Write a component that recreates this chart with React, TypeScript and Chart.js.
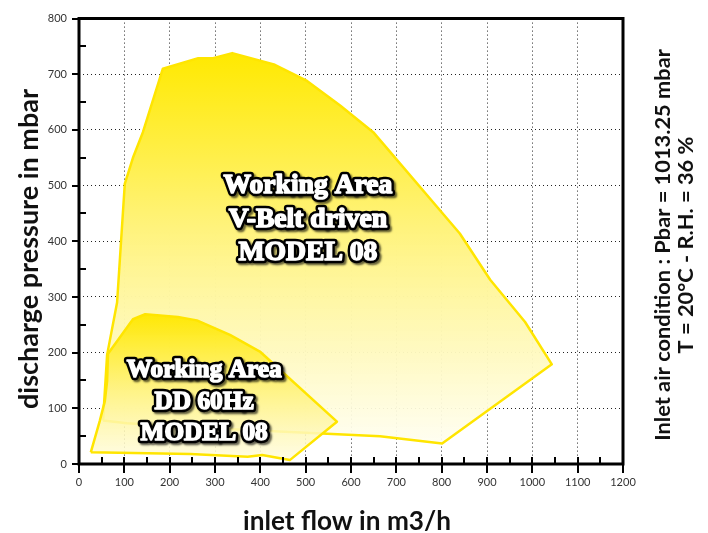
import React, { useEffect, useRef } from "react";
import { Chart, registerables } from "chart.js";

Chart.register(...registerables);

// ---- data ----
const xTickValues = [0, 100, 200, 300, 400, 500, 600, 700, 800, 900, 1000, 1100, 1200];
const yTickValues = [0, 100, 200, 300, 400, 500, 600, 700, 800];

// V-Belt driven working area (inlet flow m3/h, discharge pressure mbar)
const vbeltFlow = [53, 62, 84, 101, 119, 141, 185, 263, 296, 338, 432, 503, 576, 649, 840, 907, 984, 1043, 801, 664, 267, 106, 53];
const vbeltPressure = [78, 196, 290, 503, 550, 596, 710, 729, 729, 738, 717, 688, 644, 596, 414, 331, 255, 179, 37, 50, 65, 73, 78];

// DD 60Hz working area
const ddFlow = [26, 46, 57, 62, 64, 119, 146, 218, 260, 333, 399, 569, 465, 404, 372, 245, 26];
const ddPressure = [21, 78, 113, 149, 198, 260, 269, 264, 258, 232, 202, 76, 7, 16, 13, 18, 21];

const vbeltLabel = ["Working Area", "V-Belt driven", "MODEL 08"];
const ddLabel = ["Working Area", "DD 60Hz", "MODEL 08"];

const xTitle = "inlet flow in m3/h";
const yTitle = "discharge pressure in mbar";
const noteLines = ["Inlet air condition : Pbar = 1013.25 mbar", "T = 20°C - R.H. = 36 %"];

function fitFont(ctx: CanvasRenderingContext2D, text: string, width: number, weight: string, family: string) {
  ctx.font = `${weight} 100px ${family}`;
  const w = ctx.measureText(text).width;
  return (100 * width) / w;
}

function makeGradient(chart: any, ys: number[], stops: [number, string][]) {
  const area = chart.chartArea;
  if (!area) return "rgba(255,235,0,0.8)";
  const yScale = chart.scales.y;
  const top = yScale.getPixelForValue(Math.max(...ys));
  const bot = yScale.getPixelForValue(Math.min(...ys));
  const g = chart.ctx.createLinearGradient(0, top, 0, bot);
  stops.forEach(([o, c]) => g.addColorStop(o, c));
  return g;
}

const decorPlugin = {
  id: "decor",
  afterDatasetsDraw(chart: any) {
    const ctx: CanvasRenderingContext2D = chart.ctx;
    const xs = chart.scales.x;
    const ys = chart.scales.y;

    const drawLabel = (lines: string[], cxVal: number, cyVal: number, refWidth: number, gap: number) => {
      const family = '"Liberation Serif", serif';
      const size = fitFont(ctx, lines[0], refWidth - 4, "bold", family);
      const cx = xs.getPixelForValue(cxVal);
      const cy = ys.getPixelForValue(cyVal);
      ctx.save();
      ctx.font = `bold ${size}px ${family}`;
      ctx.textAlign = "center";
      ctx.textBaseline = "middle";
      ctx.lineJoin = "round";
      lines.forEach((t, i) => {
        const y = cy + (i - 1) * gap;
        ctx.save();
        ctx.shadowColor = "rgba(0,0,0,0.6)";
        ctx.shadowOffsetX = 2;
        ctx.shadowOffsetY = 2;
        ctx.shadowBlur = 2;
        ctx.lineWidth = 6.5;
        ctx.strokeStyle = "#000";
        ctx.strokeText(t, cx, y);
        ctx.restore();
        ctx.lineWidth = 1.6;
        ctx.strokeStyle = "#fff";
        ctx.strokeText(t, cx, y);
        ctx.fillStyle = "#fff";
        ctx.fillText(t, cx, y);
      });
      ctx.restore();
    };
    drawLabel(vbeltLabel, 505, 439, 173, 33.5);
    drawLabel(ddLabel, 276, 111, 159, 31.5);
  },
  afterDraw(chart: any) {
    const ctx: CanvasRenderingContext2D = chart.ctx;
    const a = chart.chartArea;
    const xs = chart.scales.x;
    const ys = chart.scales.y;
    ctx.save();
    ctx.strokeStyle = "#000";
    ctx.lineWidth = 2;
    for (let v = 0; v <= 1200; v += 50) {
      const px = Math.round(xs.getPixelForValue(v));
      const major = v % 100 === 0;
      ctx.beginPath();
      ctx.moveTo(px, a.bottom - 7);
      ctx.lineTo(px, major ? a.bottom + 9 : a.bottom);
      ctx.stroke();
    }
    for (let v = 0; v <= 800; v += 50) {
      const py = Math.round(ys.getPixelForValue(v));
      const major = v % 100 === 0;
      ctx.beginPath();
      if (major) {
        ctx.moveTo(a.left - 7, py);
        ctx.lineTo(a.left, py);
      } else {
        ctx.moveTo(a.left, py);
        ctx.lineTo(a.left + 7, py);
      }
      ctx.stroke();
    }
    ctx.lineWidth = 3;
    ctx.beginPath();
    ctx.rect(a.left, a.top, a.right - a.left, a.bottom - a.top);
    ctx.stroke();
    ctx.restore();

    ctx.save();
    ctx.fillStyle = "#111";
    ctx.textAlign = "center";
    ctx.textBaseline = "middle";
    const fam = "Lato, sans-serif";
    let s = fitFont(ctx, xTitle, 208, "bold", fam);
    ctx.font = `bold ${s}px ${fam}`;
    ctx.fillText(xTitle, 347, 522);

    s = fitFont(ctx, yTitle, 320, "bold", fam);
    ctx.save();
    ctx.translate(29, 249);
    ctx.rotate(-Math.PI / 2);
    ctx.font = `bold ${s}px ${fam}`;
    ctx.fillText(yTitle, 0, 0);
    ctx.restore();

    s = fitFont(ctx, noteLines[0], 392, "bold", fam);
    ctx.font = `bold ${s}px ${fam}`;
    ctx.save();
    ctx.translate(663, 245);
    ctx.rotate(-Math.PI / 2);
    ctx.fillText(noteLines[0], 0, 0);
    ctx.restore();
    ctx.save();
    ctx.translate(686, 245);
    ctx.rotate(-Math.PI / 2);
    ctx.fillText(noteLines[1], 0, 0);
    ctx.restore();
    ctx.restore();
  },
};

export default function App() {
  const ref = useRef<HTMLCanvasElement | null>(null);
  useEffect(() => {
    if (!ref.current) return;
    const toPts = (xs: number[], ys: number[]) => xs.map((x, i) => ({ x, y: ys[i] }));
    const chart = new Chart(ref.current, {
      type: "scatter",
      data: {
        datasets: [
          {
            label: "DD 60Hz",
            data: toPts(ddFlow, ddPressure),
            showLine: true,
            fill: "shape",
            tension: 0,
            pointRadius: 0,
            borderColor: "#FFE500",
            borderWidth: 2.5,
            borderJoinStyle: "round",
            backgroundColor: (c: any) =>
              makeGradient(c.chart, ddPressure, [
                [0, "rgba(255,232,0,0.97)"],
                [0.5, "rgba(255,242,120,0.9)"],
                [1, "rgba(255,252,225,0.85)"],
              ]),
          },
          {
            label: "V-Belt driven",
            data: toPts(vbeltFlow, vbeltPressure),
            showLine: true,
            fill: "shape",
            tension: 0,
            pointRadius: 0,
            borderColor: "#FFE500",
            borderWidth: 2.5,
            borderJoinStyle: "round",
            backgroundColor: (c: any) =>
              makeGradient(c.chart, vbeltPressure, [
                [0, "rgba(255,233,0,1)"],
                [0.45, "rgba(255,243,125,1)"],
                [1, "rgba(255,254,240,0.92)"],
              ]),
          },
        ],
      },
      options: {
        responsive: false,
        animation: false,
        layout: { padding: { top: 12, right: 85, left: 0, bottom: 0 } },
        plugins: { legend: { display: false }, tooltip: { enabled: false } },
        scales: {
          x: {
            type: "linear",
            min: 0,
            max: 1200,
            afterBuildTicks: (sc: any) => {
              sc.ticks = xTickValues.map((v) => ({ value: v }));
            },
            afterFit: (sc: any) => {
              sc.height = 69;
            },
            ticks: {
              padding: 12,
              color: "#333",
              font: { family: "Lato, sans-serif", size: 11 },
              maxRotation: 0,
              callback: (v: any) => String(v),
            },
            grid: { color: "#222", lineWidth: 1, drawTicks: false },
            border: { display: false, dash: [1, 3] },
          },
          y: {
            type: "linear",
            min: 0,
            max: 800,
            afterBuildTicks: (sc: any) => {
              sc.ticks = yTickValues.map((v) => ({ value: v }));
            },
            afterFit: (sc: any) => {
              sc.width = 79;
            },
            ticks: {
              padding: 12,
              color: "#333",
              font: { family: "Lato, sans-serif", size: 11 },
              callback: (v: any) => String(v),
            },
            grid: { color: "#222", lineWidth: 1, drawTicks: false },
            border: { display: false, dash: [1, 3] },
          },
        },
      },
      plugins: [decorPlugin],
    } as any);
    return () => chart.destroy();
  }, []);
  return (
    <div style={{ position: "absolute", left: 0, top: 0, width: 708, height: 533, background: "#fff" }}>
      <canvas ref={ref} width={708} height={533} style={{ display: "block" }} />
    </div>
  );
}
